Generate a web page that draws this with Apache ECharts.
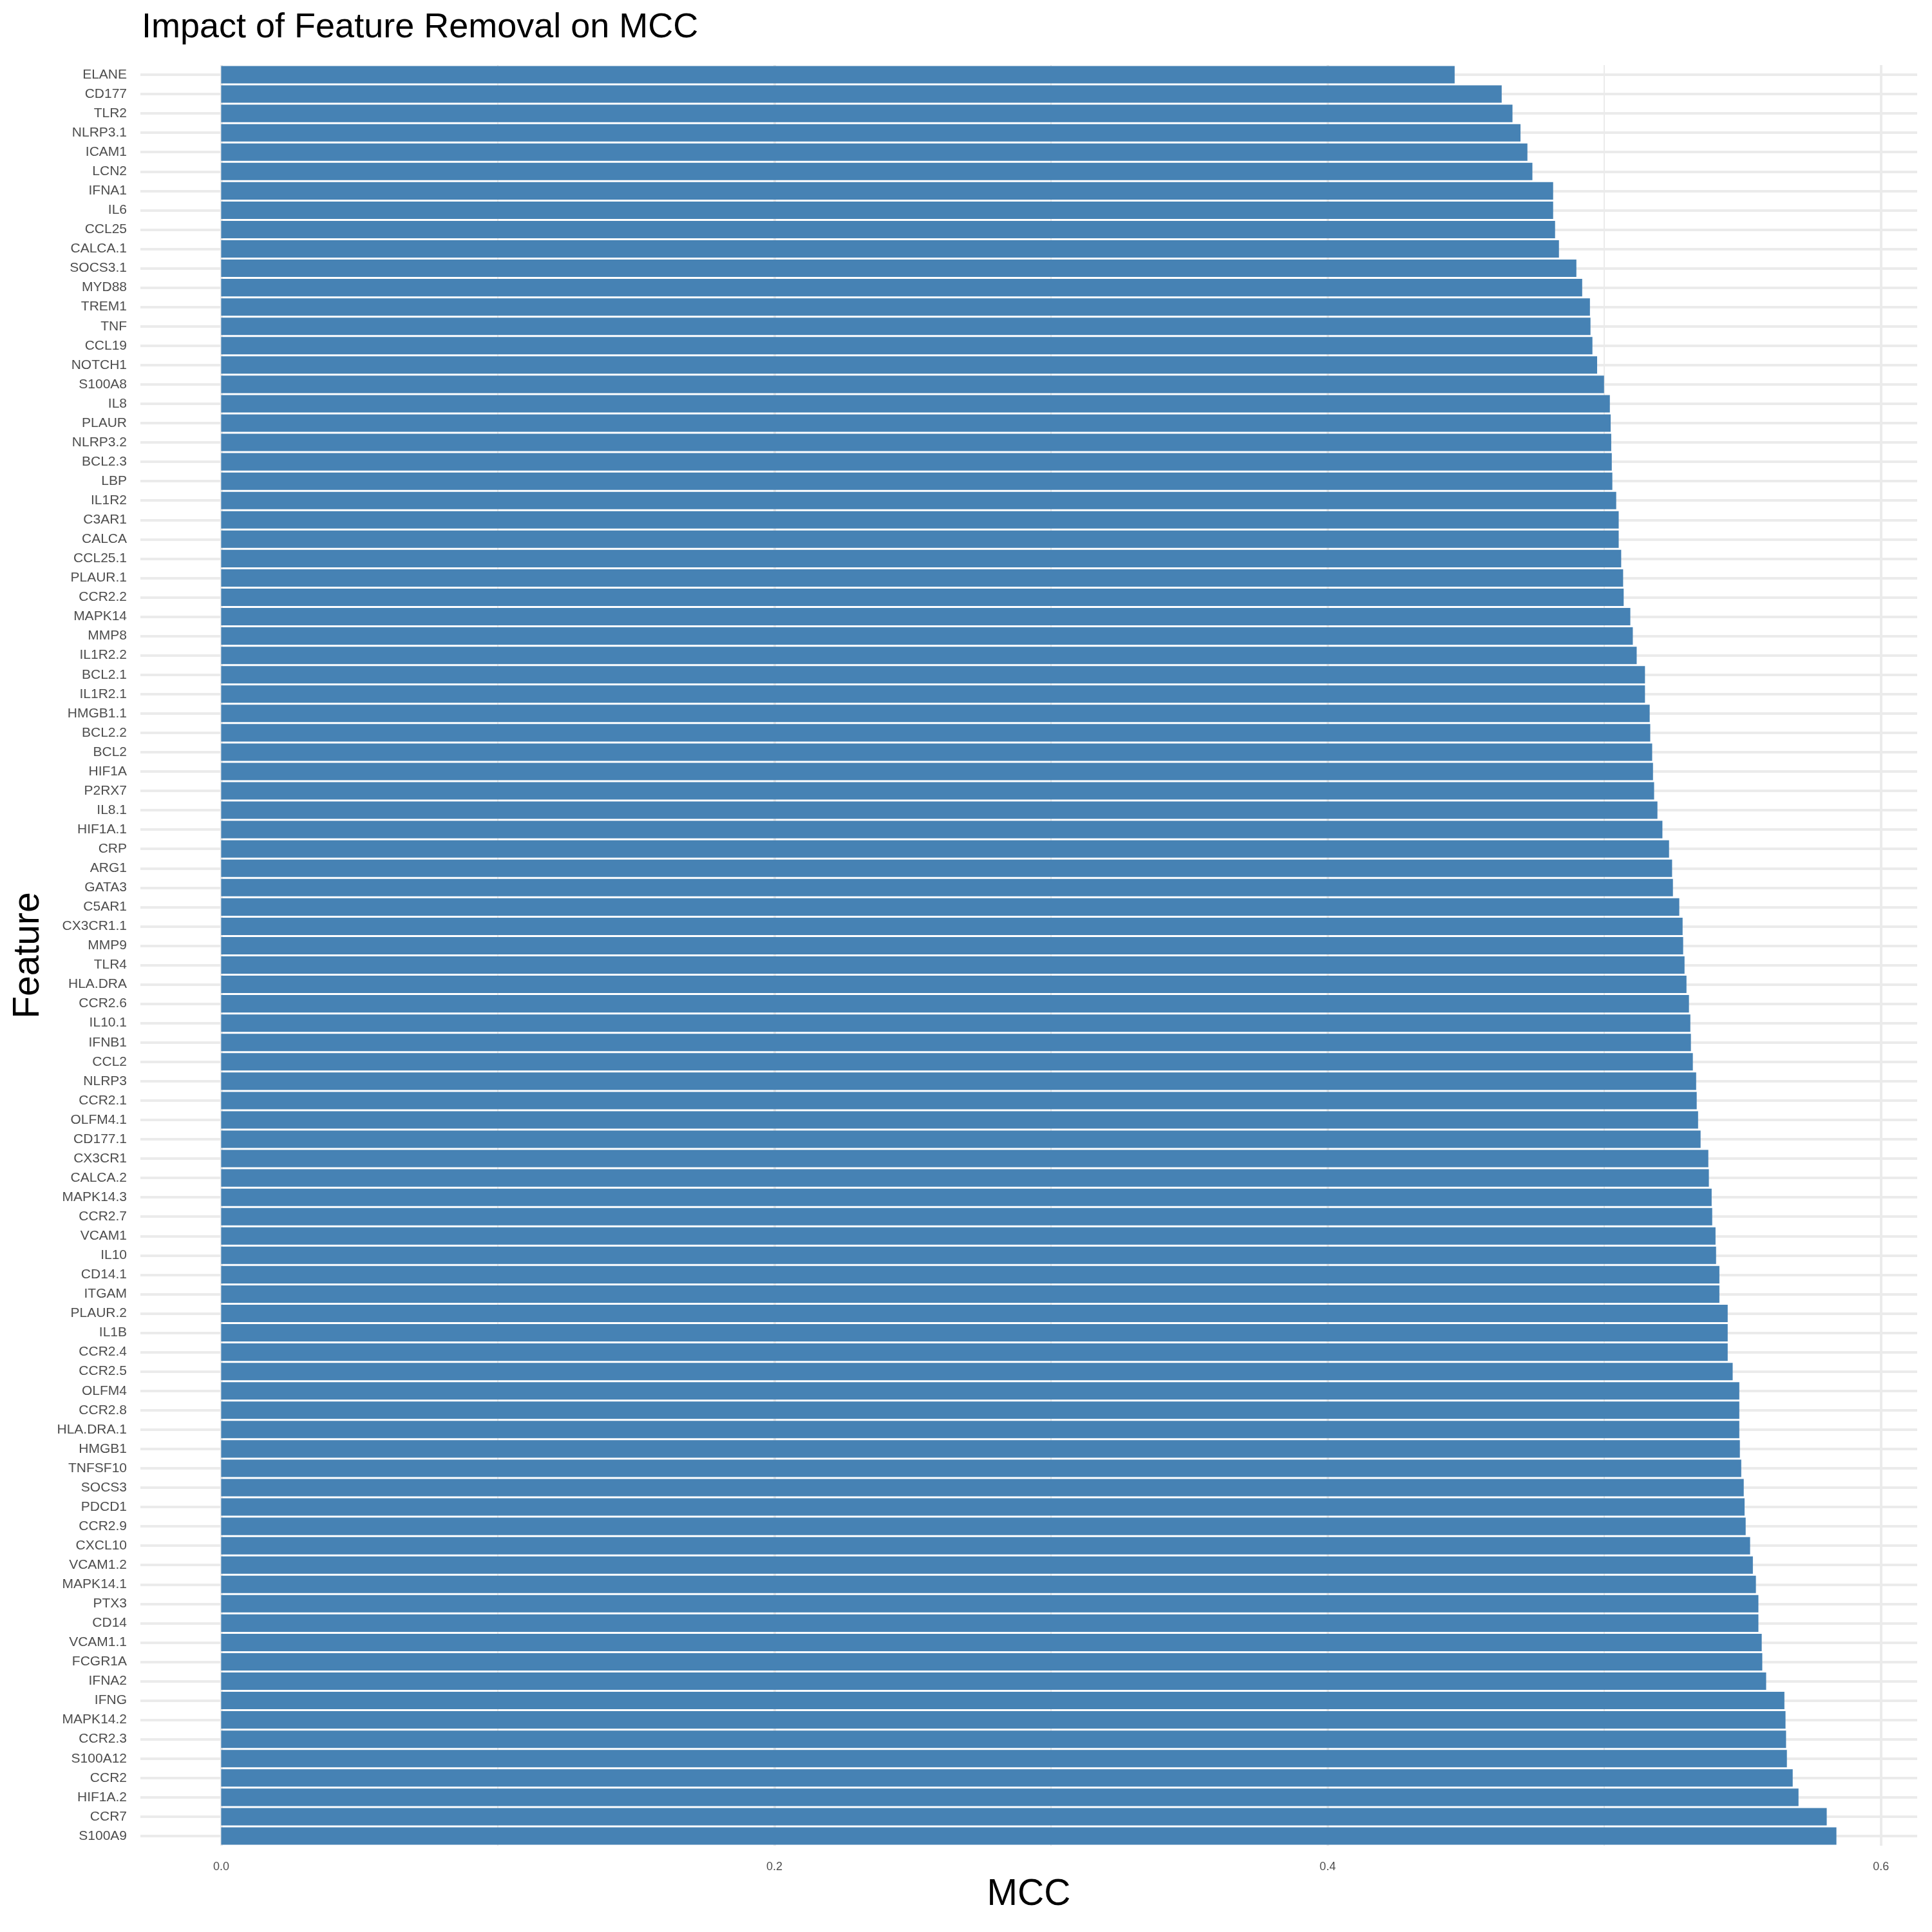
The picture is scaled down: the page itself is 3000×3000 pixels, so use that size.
<!DOCTYPE html>
<html>
<head>
<meta charset="utf-8">
<title>Impact of Feature Removal on MCC</title>
<script src="https://cdn.jsdelivr.net/npm/echarts@6/dist/echarts.min.js"></script>
<style>
	body { margin: 0; background: #ffffff; }
	#mccChart { width: 3000px; height: 3000px; }
</style>
</head>
<body>
<div id="mccChart"></div>
<script>
// features, top to bottom as in the picture
var featureNames = [
	'ELANE','CD177','TLR2','NLRP3.1','ICAM1','LCN2','IFNA1','IL6','CCL25','CALCA.1',
	'SOCS3.1','MYD88','TREM1','TNF','CCL19','NOTCH1','S100A8','IL8','PLAUR','NLRP3.2',
	'BCL2.3','LBP','IL1R2','C3AR1','CALCA','CCL25.1','PLAUR.1','CCR2.2','MAPK14','MMP8',
	'IL1R2.2','BCL2.1','IL1R2.1','HMGB1.1','BCL2.2','BCL2','HIF1A','P2RX7','IL8.1','HIF1A.1',
	'CRP','ARG1','GATA3','C5AR1','CX3CR1.1','MMP9','TLR4','HLA.DRA','CCR2.6','IL10.1',
	'IFNB1','CCL2','NLRP3','CCR2.1','OLFM4.1','CD177.1','CX3CR1','CALCA.2','MAPK14.3','CCR2.7',
	'VCAM1','IL10','CD14.1','ITGAM','PLAUR.2','IL1B','CCR2.4','CCR2.5','OLFM4','CCR2.8',
	'HLA.DRA.1','HMGB1','TNFSF10','SOCS3','PDCD1','CCR2.9','CXCL10','VCAM1.2','MAPK14.1','PTX3',
	'CD14','VCAM1.1','FCGR1A','IFNA2','IFNG','MAPK14.2','CCR2.3','S100A12','CCR2','HIF1A.2',
	'CCR7','S100A9'
];

// MCC after removing each feature
var mccValues = [
	0.4459, 0.4629, 0.4668, 0.4697, 0.4722, 0.4740, 0.4815, 0.4815, 0.4822, 0.4836,
	0.4899, 0.4920, 0.4948, 0.4950, 0.4957, 0.4974, 0.4999, 0.5020, 0.5023, 0.5025,
	0.5027, 0.5029, 0.5043, 0.5052, 0.5052, 0.5061, 0.5068, 0.5070, 0.5094, 0.5103,
	0.5117, 0.5147, 0.5147, 0.5164, 0.5166, 0.5173, 0.5176, 0.5180, 0.5192, 0.5210,
	0.5234, 0.5245, 0.5248, 0.5271, 0.5283, 0.5285, 0.5290, 0.5297, 0.5306, 0.5311,
	0.5313, 0.5320, 0.5332, 0.5334, 0.5339, 0.5348, 0.5376, 0.5378, 0.5388, 0.5390,
	0.5402, 0.5404, 0.5416, 0.5416, 0.5446, 0.5446, 0.5446, 0.5464, 0.5488, 0.5488,
	0.5488, 0.5490, 0.5495, 0.5504, 0.5507, 0.5511, 0.5527, 0.5537, 0.5548, 0.5557,
	0.5557, 0.5569, 0.5571, 0.5585, 0.5651, 0.5655, 0.5657, 0.5660, 0.5681, 0.5702,
	0.5804, 0.5839
];

// x axis ticks
var majorTicks = [0, 0.2, 0.4, 0.6];
var minorTicks = [0.1, 0.3, 0.5];

var gridColor = '#EBEBEB';
var fontName = 'Liberation Sans';

// vertical grid lines, drawn behind the bars
var gridLines = [];
for (var i = 0; i < majorTicks.length; i++) {
	gridLines.push({ xAxis: majorTicks[i], lineStyle: { width: 4 } });
}
for (var j = 0; j < minorTicks.length; j++) {
	gridLines.push({ xAxis: minorTicks[j], lineStyle: { width: 2 } });
}

var mccChart = echarts.init(document.getElementById('mccChart'));

var option = {
	animation: false,
	backgroundColor: '#ffffff',
	title: {
		text: 'Impact of Feature Removal on MCC',
		left: 220,
		top: 16,
		padding: 0,
		textStyle: {
			fontFamily: fontName,
			fontSize: 54,
			fontWeight: 'normal',
			color: '#000000'
		}
	},
	grid: {
		left: 218,
		right: 23,
		top: 101,
		bottom: 134,
		containLabel: false
	},
	xAxis: {
		type: 'value',
		min: -0.0292,   // ggplot style 5% padding around 0 .. max
		max: 0.6131,
		name: 'MCC',
		nameLocation: 'middle',
		nameGap: 48,
		nameTextStyle: {
			fontFamily: fontName,
			fontSize: 57,
			color: '#000000'
		},
		axisLine: { show: false },
		axisTick: { show: false },
		splitLine: { show: false },
		axisLabel: {
			customValues: majorTicks,
			margin: 24,
			fontFamily: fontName,
			fontSize: 18,
			color: '#4D4D4D',
			formatter: function (v) {
				return v.toFixed(1);
			}
		}
	},
	yAxis: {
		type: 'category',
		inverse: true,
		data: featureNames,
		name: 'Feature',
		nameLocation: 'middle',
		nameGap: 145,
		nameTextStyle: {
			fontFamily: fontName,
			fontSize: 57,
			color: '#000000'
		},
		axisLine: { show: false },
		axisTick: { show: false },
		axisLabel: {
			interval: 0,
			margin: 21,
			fontFamily: fontName,
			fontSize: 21,
			color: '#4D4D4D'
		},
		splitLine: {
			show: true,
			interval: 0,
			alignWithLabel: true,
			lineStyle: { color: gridColor, width: 4 }
		}
	},
	series: [
		{
			// only carries the vertical grid lines
			type: 'line',
			data: [],
			silent: true,
			z: 1,
			markLine: {
				silent: true,
				symbol: 'none',
				z: 1,
				label: { show: false },
				lineStyle: { color: gridColor, type: 'solid' },
				data: gridLines
			}
		},
		{
			name: 'MCC',
			type: 'bar',
			z: 10,
			data: mccValues,
			barCategoryGap: '10%',
			itemStyle: { color: '#4682B4' }
		}
	]
};

mccChart.setOption(option);
</script>
</body>
</html>
